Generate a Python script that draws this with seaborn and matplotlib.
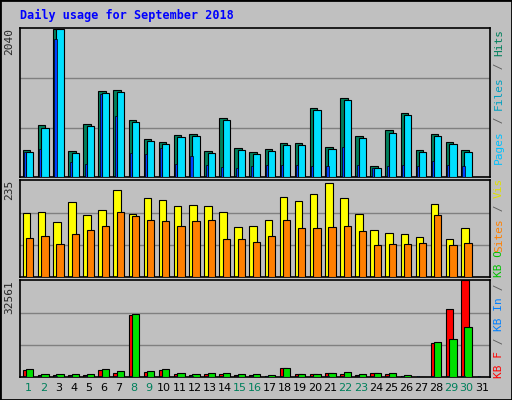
import numpy as np
import matplotlib
matplotlib.use('Agg')
import matplotlib.pyplot as plt
import seaborn as sns

sns.set_style('white')
plt.rcParams['font.family'] = ['DejaVu Sans Mono', 'DejaVu Sans']

days = list(range(1, 32))
weekends = [1, 2, 8, 9, 15, 16, 22, 23, 29, 30]

hits = [376, 709, 2040, 362, 723, 1182, 1196, 779, 529, 487, 584, 598, 362, 806, 404, 348, 390, 473, 473, 946, 418, 1084, 570, 153, 640, 876, 376, 598, 487, 376, 0]
files = [348, 681, 2040, 334, 695, 1154, 1168, 751, 501, 459, 556, 570, 334, 778, 376, 320, 362, 445, 445, 918, 390, 1056, 542, 125, 612, 848, 348, 570, 459, 348, 0]
pages = [348, 390, 1905, 209, 181, 1140, 834, 334, 320, 404, 181, 292, 167, 139, 125, 150, 160, 170, 160, 150, 150, 417, 170, 120, 150, 160, 150, 220, 170, 150, 0]
visits = [157, 159, 134, 182, 152, 162, 212, 154, 192, 187, 172, 175, 172, 159, 121, 124, 139, 195, 185, 202, 230, 192, 154, 114, 106, 104, 98, 177, 93, 119, 0]
sites = [96, 99, 81, 104, 114, 124, 159, 149, 139, 137, 124, 137, 139, 93, 93, 86, 99, 139, 119, 119, 121, 124, 111, 78, 81, 81, 83, 152, 78, 83, 0]
kbf = [2450, 700, 700, 700, 700, 2450, 1400, 21000, 1750, 2450, 1050, 700, 1050, 1050, 700, 700, 350, 3150, 1050, 1050, 1400, 1050, 700, 1400, 1050, 350, 0, 11550, 23100, 32561, 0]
kbout = [2800, 1050, 1050, 1050, 1050, 2800, 2100, 21350, 2100, 2800, 1400, 1050, 1400, 1400, 1050, 1050, 700, 3150, 1050, 1050, 1400, 1750, 1050, 1400, 1400, 700, 0, 11900, 12950, 16800, 0]
kbin = [200] * 31

bg = '#c0c0c0'
fig = plt.figure(figsize=(5.12, 4.0), dpi=100, facecolor=bg)
fig.patches.append(plt.Rectangle((0, 0), 1, 1, transform=fig.transFigure,
                                 fill=False, edgecolor='black', linewidth=2))

W, H = 512, 400
def add_ax(top, bottom):
    return fig.add_axes([20 / W, 1 - bottom / H, 470 / W, (bottom - top) / H])

ax1 = add_ax(28, 177)
ax2 = add_ax(180, 277)
ax3 = add_ax(280, 377)

x = np.array(days, dtype=float)
ek = dict(edgecolor='black', linewidth=0.8)

def setup(ax, vmax, label):
    ax.set_facecolor(bg)
    ax.set_xlim(0.45, 31.55)
    ax.set_ylim(0, vmax * 1.005)
    for f in (1 / 3, 2 / 3):
        ax.axhline(vmax * f, color='#808080', linewidth=1, zorder=0)
    ax.set_xticks([])
    ax.set_yticks([])
    for s in ax.spines.values():
        s.set_color('black')
        s.set_linewidth(1.2)
    ax.text(-0.012, 1.0, label, transform=ax.transAxes, rotation=90,
            ha='right', va='top', fontsize=8)

setup(ax1, 2040, '2040')
ax1.bar(x - 0.12, hits, width=0.5, color='#00805c', **ek, zorder=2)
ax1.bar(x + 0.1, files, width=0.48, color='#00e0ff', **ek, zorder=3)
ax1.bar(x - 0.2, pages, width=0.14, color='#0040ff', edgecolor='black', linewidth=0.5, zorder=4)

setup(ax2, 235, '235')
ax2.bar(x - 0.12, visits, width=0.5, color='#ffff00', **ek, zorder=2)
ax2.bar(x + 0.1, sites, width=0.48, color='#ff8000', **ek, zorder=3)

setup(ax3, 32561, '32561')
ax3.bar(x - 0.12, kbf, width=0.5, color='#ff0000', **ek, zorder=2)
ax3.bar(x + 0.1, kbout, width=0.48, color='#00e000', **ek, zorder=3)
ax3.bar(x - 0.2, kbin, width=0.14, color='#0080ff', edgecolor='black', linewidth=0.5, zorder=4)

for d in days:
    ax3.text(d, -0.06, str(d), transform=ax3.get_xaxis_transform(), ha='center', va='top',
             fontsize=8, family='DejaVu Sans',
             color='#00805c' if d in weekends else 'black')

fig.text(20 / W, 1 - 15 / H, 'Daily usage for September 2018', color='#0000ff',
         fontsize=8.5, fontweight='bold', va='center', ha='left')

renderer = fig.canvas.get_renderer()

def right_label(bottom, top, parts):
    # stack coloured pieces bottom-to-top along the right edge, stop at top
    xr = 1 - 13 / W
    ypos = 1 - bottom / H
    for txt, col in parts:
        t = fig.text(xr, ypos, txt, rotation=90, color=col, fontsize=8,
                     ha='center', va='bottom')
        bb = t.get_window_extent(renderer)
        if ypos + bb.height / H > 1 - top / H:
            t.set_clip_on(True)
            t.set_clip_box(matplotlib.transforms.Bbox.from_extents(0, 0, W, H - top))
        ypos += bb.height / H

right_label(164, 22, [('Pages', '#00c0ff'), (' / ', '#606060'), ('Files', '#00a0c0'),
                      (' / ', '#606060'), ('Hits', '#00805c')])
right_label(252, 180, [('Sites', '#ff8000'), (' / ', '#606060'), ('Visits', '#e0e000')])
right_label(378, 252, [('KB F', '#ff0000'), (' / ', '#606060'), ('KB In', '#0080ff'),
                       (' / ', '#606060'), ('KB Out', '#00c000')])

fig.savefig('out.png', dpi=100, facecolor=bg)
